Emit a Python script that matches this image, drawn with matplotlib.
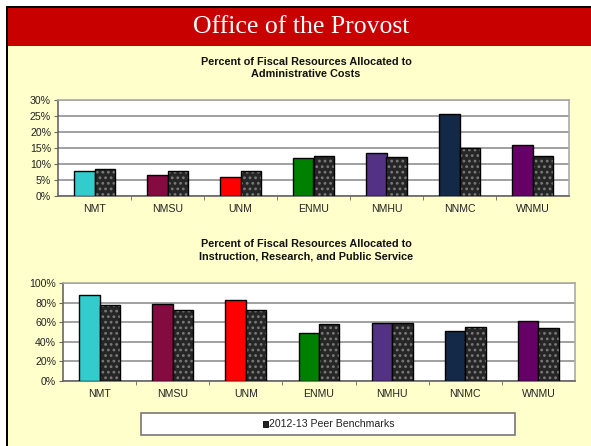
import matplotlib
matplotlib.use("Agg")
import matplotlib.pyplot as plt
from matplotlib.patches import Rectangle
import numpy as np

categories = ["NMT", "NMSU", "UNM", "ENMU", "NMHU", "NNMC", "WNMU"]
colors = ["#33CCCC", "#850A40", "#FF0000", "#008000", "#533285", "#142848", "#660066"]

admin_inst = [7.8, 6.6, 6.0, 11.8, 13.5, 25.6, 15.9]
admin_peer = [8.3, 7.9, 7.9, 12.6, 12.3, 15.1, 12.6]

instr_inst = [87.4, 78.6, 82.3, 49.3, 58.8, 51.0, 61.6]
instr_peer = [77.6, 72.1, 72.4, 58.2, 59.5, 54.8, 54.4]

title_top = "Percent of Fiscal Resources Allocated to\nAdministrative Costs"
title_bot = "Percent of Fiscal Resources Allocated to\nInstruction, Research, and Public Service"
header = "Office of the Provost"
legend_label = "2012-13 Peer Benchmarks"

W, H = 591, 446
plt.rcParams['font.family'] = ['Liberation Sans', 'DejaVu Sans']
plt.rcParams['hatch.linewidth'] = 1.2
fig = plt.figure(figsize=(W / 100, H / 100), dpi=100)
fig.patch.set_facecolor("white")

def fx(x):
    return x / W

def fy(y):
    return 1 - y / H

# background panels
fig.patches.append(Rectangle((fx(8), 0), 1 - fx(8), fy(46), transform=fig.transFigure,
                             facecolor="#FFFFCC", edgecolor="none", zorder=-3))
fig.patches.append(Rectangle((fx(8), fy(46)), 1 - fx(8), fy(8) - fy(46), transform=fig.transFigure,
                             facecolor="#C80000", edgecolor="none", zorder=-3))
fig.patches.append(Rectangle((fx(6), fy(8)), 1 - fx(6), fy(6) - fy(8), transform=fig.transFigure,
                             facecolor="black", edgecolor="none", zorder=-2))
fig.patches.append(Rectangle((fx(6), 0), fx(8) - fx(6), fy(6), transform=fig.transFigure,
                             facecolor="black", edgecolor="none", zorder=-2))

fig.text(fx(301), fy(27), header, color="white", fontsize=18.5, family="Liberation Serif",
         ha="center", va="center")

bw = 0.28
fs = 7.6

def draw(ax_rect, inst, peer, ymax, ystep, title, title_y):
    l, t, r, b = ax_rect
    ax = fig.add_axes([fx(l), fy(b), fx(r) - fx(l), fy(t) - fy(b)])
    ax.set_facecolor("white")
    x = np.arange(len(categories))
    ax.bar(x - bw / 2, inst, width=bw, color=colors, edgecolor="black", linewidth=1.0, zorder=3)
    ax.bar(x + bw / 2, peer, width=bw, color="#262626", edgecolor="#7a7a7a", hatch="...",
           linewidth=0, zorder=3)
    ax.bar(x + bw / 2, peer, width=bw, fill=False, edgecolor="black", linewidth=1.0, zorder=4)
    ax.set_xlim(-0.5, len(categories) - 0.5)
    ax.set_ylim(0, ymax)
    yt = np.arange(0, ymax + 0.01, ystep)
    ax.set_yticks(yt)
    ax.set_yticklabels([f"{int(v)}%" for v in yt], fontsize=fs, color="#222222")
    ax.set_xticks(x)
    ax.set_xticklabels(categories, fontsize=fs, color="#222222")
    ax.tick_params(axis="x", length=0, pad=6)
    ax.set_xticks(np.arange(0.5, len(categories) - 0.5, 1), minor=True)
    ax.tick_params(axis="x", which="minor", length=3, color="#666666", direction="out")
    ax.tick_params(axis="y", length=3, color="#666666", pad=2)
    ax.yaxis.grid(True, color="#999999", linewidth=1.3, zorder=0)
    ax.set_axisbelow(True)
    for s in ["top", "right"]:
        ax.spines[s].set_color("#aaaaaa")
        ax.spines[s].set_linewidth(1.2)
    for s in ["left", "bottom"]:
        ax.spines[s].set_color("#666666")
        ax.spines[s].set_linewidth(1.2)
    fig.text(fx(306), fy(title_y), title, ha="center", va="center", fontsize=7.8,
             fontweight="bold", color="#111111", linespacing=1.3)
    return ax

draw((58, 100, 569, 196), admin_inst, admin_peer, 30, 5, title_top, 68)
draw((63, 283, 575, 381), instr_inst, instr_peer, 100, 20, title_bot, 250)

# legend box
fig.patches.append(Rectangle((fx(141), fy(435)), fx(515) - fx(141), fy(413) - fy(435),
                             transform=fig.transFigure, facecolor="white", edgecolor="#777777",
                             linewidth=1.2, zorder=2))
fig.patches.append(Rectangle((fx(263), fy(427)), fx(268) - fx(263), fy(421) - fy(427),
                             transform=fig.transFigure, facecolor="#222222", edgecolor="black",
                             linewidth=0.6, zorder=3))
fig.text(fx(269), fy(424), legend_label, ha="left", va="center", fontsize=fs, color="#222222", zorder=4)

fig.savefig("out.png", dpi=100, facecolor=fig.get_facecolor())
